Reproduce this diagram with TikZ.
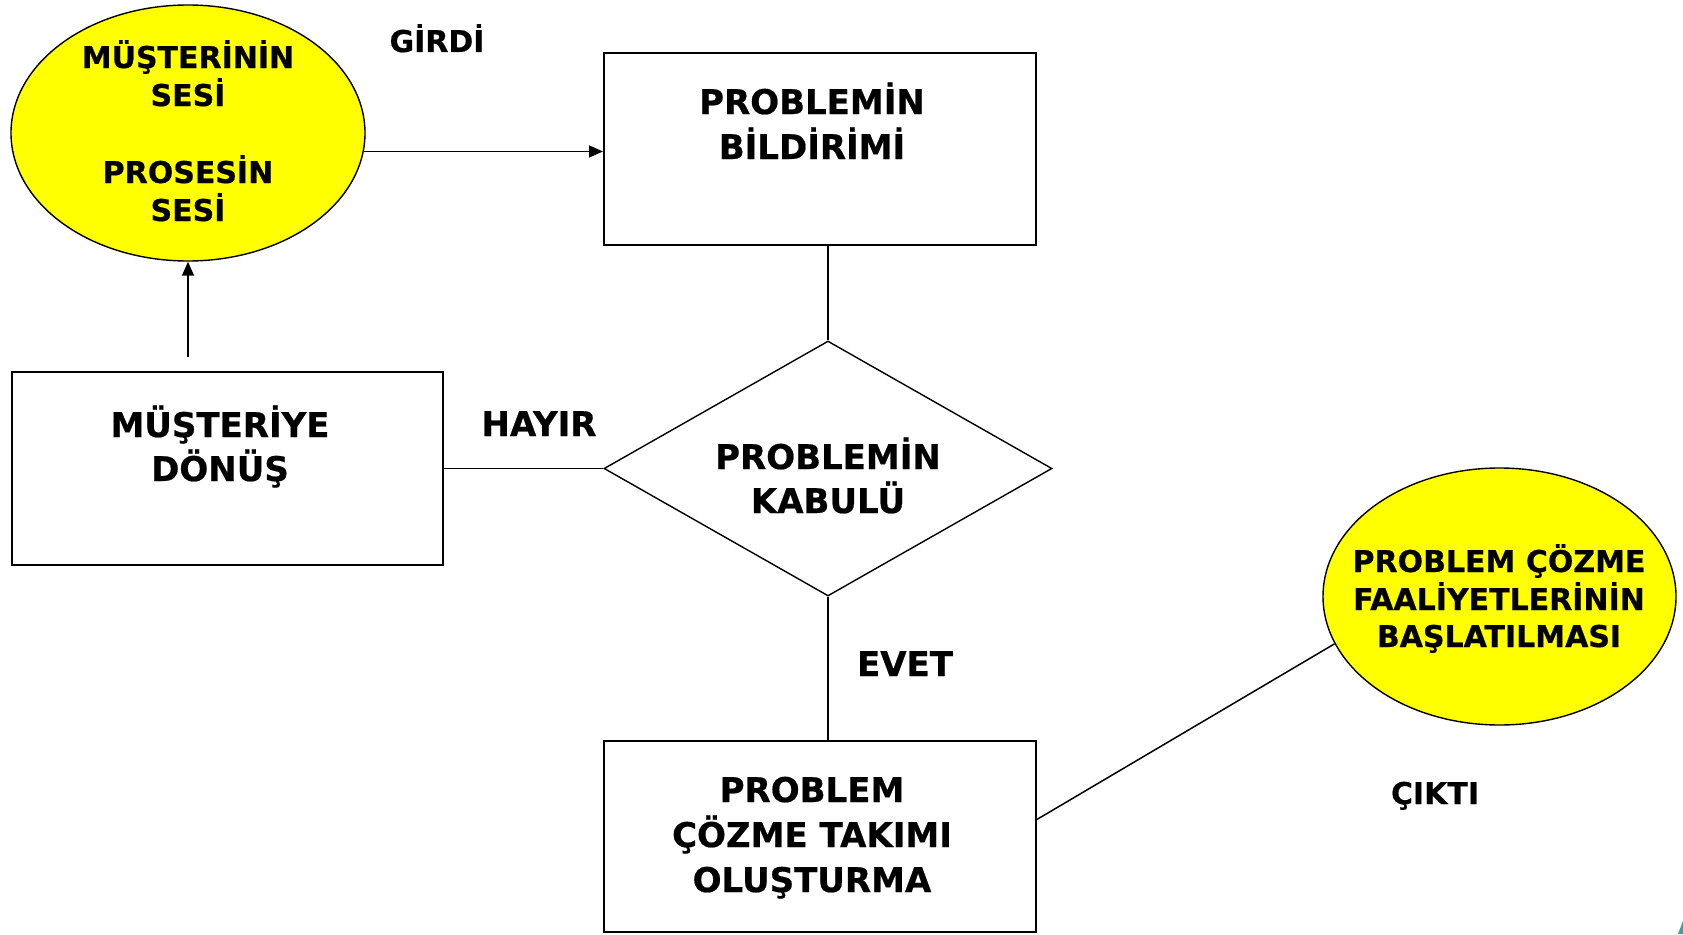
\documentclass[tikz,border=0pt]{standalone}
\usepackage{fontspec}
\setmainfont{DejaVu Sans}[BoldFeatures={FakeBold=0.6}]
\usetikzlibrary{shapes.geometric,arrows.meta,calc}
\definecolor{ovalfill}{RGB}{255,255,0}
\definecolor{cornerteal}{RGB}{84,150,150}
\begin{document}
\begin{tikzpicture}[x=1pt,y=-1pt,
  stepbox/.style={draw=black,line width=2pt,fill=white,rectangle,inner sep=0pt},
  oval/.style={draw=black,line width=1.4pt,fill=ovalfill,ellipse,inner sep=0pt},
  decision/.style={draw=black,line width=1.4pt,fill=white,diamond,inner sep=0pt},
  conn/.style={draw=black,line width=1.5pt},
  arr/.style={conn,-{Triangle[length=14pt,width=12pt]}},
  big/.style={font=\fontsize{34}{40}\selectfont\bfseries,inner sep=0pt,anchor=base},
  small/.style={font=\fontsize{30}{36}\selectfont\bfseries,inner sep=0pt,anchor=base}]
\useasboundingbox[fill=white] (0,0) rectangle (1683,934);

% shapes
\node[oval,minimum width=354pt,minimum height=256pt] (e1) at (188,133) {};
\node[stepbox,minimum width=432pt,minimum height=192pt] (b1) at (820,149) {};
\node[decision,minimum width=448pt,minimum height=255pt] (d) at (828,468.5) {};
\node[stepbox,minimum width=431pt,minimum height=193pt] (b2) at (227.5,468.5) {};
\node[stepbox,minimum width=432pt,minimum height=191pt] (b3) at (820,836.5) {};
\node[oval,minimum width=353pt,minimum height=257pt] (e2) at (1499.5,596.5) {};

% texts
\node[small] (e1a) at (188,68) {MÜŞTERİNİN};
\node[small] (e1b) at (188,106) {SESİ};
\node[small] (e1c) at (188,183) {PROSESİN};
\node[small] (e1d) at (188,221) {SESİ};
\node[small] (girdi) at (437,52) {GİRDİ};
\node[big] (b1a) at (812,114) {PROBLEMİN};
\node[big] (b1b) at (812,159) {BİLDİRİMİ};
\node[big] (da) at (828,469) {PROBLEMİN};
\node[big] (db) at (828,513) {KABULÜ};
\node[big] (b2a) at (220,437) {MÜŞTERİYE};
\node[big] (b2b) at (220,481) {DÖNÜŞ};
\node[big] (hayir) at (539,436) {HAYIR};
\node[big] (evet) at (905,676) {EVET};
\node[big] (b3a) at (812,802) {PROBLEM};
\node[big] (b3b) at (812,847) {ÇÖZME TAKIMI};
\node[big] (b3c) at (812,892) {OLUŞTURMA};
\node[small] (e2a) at (1499,572) {PROBLEM ÇÖZME};
\node[small] (e2b) at (1499,610) {FAALİYETLERİNİN};
\node[small] (e2c) at (1499,647) {BAŞLATILMASI};
\node[small] (cikti) at (1435,804) {ÇIKTI};

% connectors
\coordinate (retstart) at (188,357);
\coordinate (outstart) at (1036,820);
\draw[arr] (e1.-6.5) -- (e1.-6.5 -| b1.west);
\draw[conn] (d.north |- b1.south) -- (d.north);
\draw[conn] (b2.east) -- (d.west);
\draw[arr] (retstart) -- (e1.south);
\draw[conn] (d.south) -- (d.south |- b3.north);
\draw[conn] (outstart) -- (e2.196.7);

% corner ornament
\fill[cornerteal] (1678,934) -- (1683,921) -- (1683,934) -- cycle;
\end{tikzpicture}
\end{document}
